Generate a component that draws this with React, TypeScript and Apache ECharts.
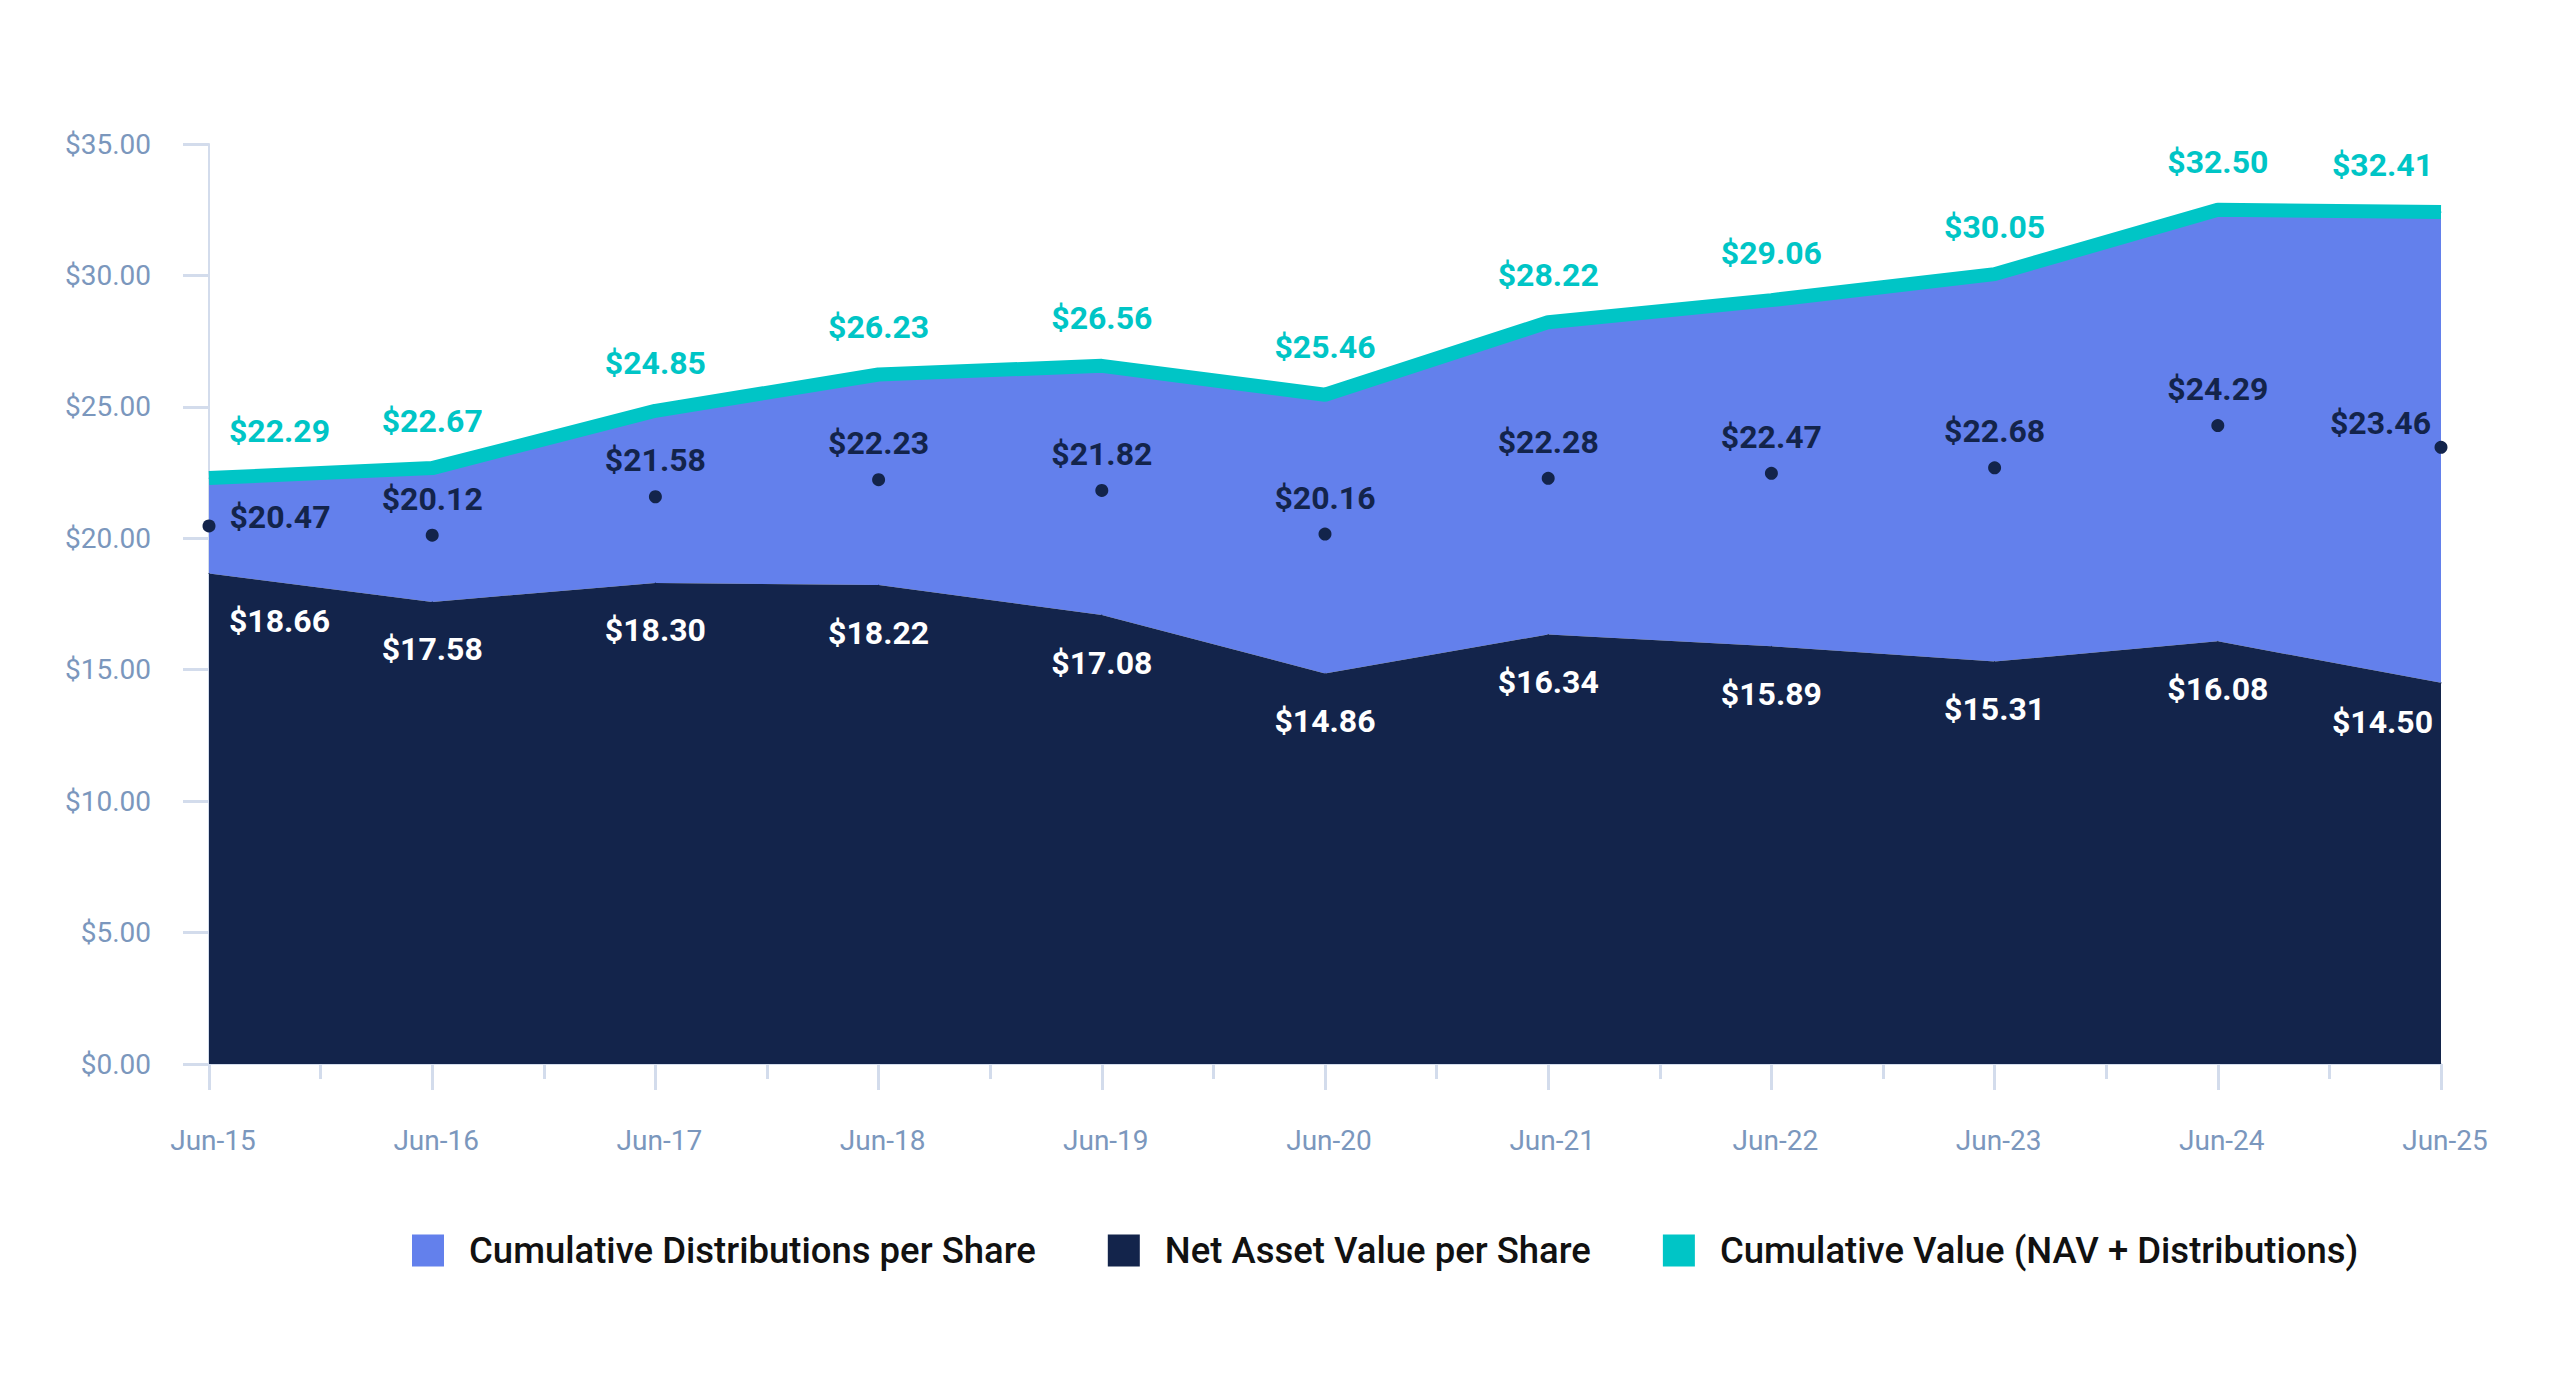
import React, { useEffect, useRef } from 'react';
import * as echarts from 'echarts';

const categories = ['Jun-15', 'Jun-16', 'Jun-17', 'Jun-18', 'Jun-19', 'Jun-20', 'Jun-21', 'Jun-22', 'Jun-23', 'Jun-24', 'Jun-25'];
const navPerShare = [18.66, 17.58, 18.3, 18.22, 17.08, 14.86, 16.34, 15.89, 15.31, 16.08, 14.5];
const cumulativeValue = [22.29, 22.67, 24.85, 26.23, 26.56, 25.46, 28.22, 29.06, 30.05, 32.5, 32.41];
const markerValues = [20.47, 20.12, 21.58, 22.23, 21.82, 20.16, 22.28, 22.47, 22.68, 24.29, 23.46];
const yMin = 0;
const yMax = 35;
const yInterval = 5;

const NAVY = '#13244b';
const PURPLE = '#6380ec';
const TEAL = '#00c5c6';
const AXIS = '#d3dcec';
const LABEL = '#7b97bd';
const FONT = 'Roboto';

const distributions = cumulativeValue.map((c, i) => +(c - navPerShare[i]).toFixed(2));
const last = categories.length - 1;
const money = (v: number) => '$' + v.toFixed(2);

const edgeLabel = (i: number, first: any, lastL: any) => (i === 0 ? first : i === last ? lastL : undefined);

export default function App() {
  const ref = useRef<HTMLDivElement>(null);
  useEffect(() => {
    document.body.style.margin = '0';
    const chart = echarts.init(ref.current!, null, { renderer: 'svg' });
    const bold = { fontFamily: FONT, fontWeight: 'bold', fontSize: 32 } as any;
    chart.setOption({
      animation: false,
      backgroundColor: '#ffffff',
      grid: { left: 209, right: 119, top: 144, bottom: 310 },
      legend: {
        data: ['Cumulative Distributions per Share', 'Net Asset Value per Share', 'Cumulative Value (NAV + Distributions)'],
        left: 407,
        top: 1227,
        icon: 'rect',
        itemWidth: 32,
        itemHeight: 32,
        itemGap: 72,
        textStyle: { fontFamily: FONT, fontSize: 36.5, fontWeight: 500, color: '#111111', padding: [0, 0, 0, 20] },
      },
      xAxis: [
        {
          type: 'category',
          data: categories,
          boundaryGap: false,
          show: false,
        },
        {
          type: 'value',
          min: 0,
          max: last,
          interval: 1,
          position: 'bottom',
          axisLine: { show: true, lineStyle: { color: AXIS, width: 2 } },
          axisTick: { show: true, length: 26, lineStyle: { color: AXIS, width: 3 } },
          minorTick: { show: true, splitNumber: 2, length: 15, lineStyle: { color: AXIS, width: 3 } },
          splitLine: { show: false },
          minorSplitLine: { show: false },
          axisLabel: {
            formatter: (v: number) => categories[Math.round(v)] ?? '',
            color: LABEL,
            fontFamily: FONT,
            fontSize: 28,
            margin: 62,
            padding: [0, 0, 0, 8],
          },
        },
      ],
      yAxis: {
        type: 'value',
        min: yMin,
        max: yMax,
        interval: yInterval,
        axisLine: { show: true, lineStyle: { color: AXIS, width: 2 } },
        axisTick: { show: true, length: 26, lineStyle: { color: AXIS, width: 3 } },
        splitLine: { show: false },
        axisLabel: {
          formatter: (v: number) => money(v),
          color: LABEL,
          fontFamily: FONT,
          fontSize: 28,
          margin: 58,
        },
      },
      series: [
        {
          name: 'Net Asset Value per Share',
          type: 'line',
          xAxisIndex: 0,
          stack: 'total',
          color: NAVY,
          data: navPerShare.map((v, i) => ({
            value: v,
            label: edgeLabel(i, { align: 'left', offset: [20, 0] }, { align: 'right', offset: [-8, -8] }),
          })),
          areaStyle: { color: NAVY, opacity: 1 },
          lineStyle: { width: 0 },
          symbol: 'circle',
          symbolSize: 1,
          showSymbol: true,
          itemStyle: { color: NAVY },
          label: {
            show: true,
            position: 'bottom',
            distance: 31,
            color: '#ffffff',
            ...bold,
            formatter: (p: any) => money(navPerShare[p.dataIndex]),
          },
          z: 2,
        },
        {
          name: 'Cumulative Distributions per Share',
          type: 'line',
          xAxisIndex: 0,
          stack: 'total',
          color: PURPLE,
          data: distributions,
          areaStyle: { color: PURPLE, opacity: 1 },
          lineStyle: { width: 0 },
          symbol: 'none',
          itemStyle: { color: PURPLE },
          z: 1,
        },
        {
          name: 'Cumulative Value (NAV + Distributions)',
          type: 'line',
          xAxisIndex: 0,
          color: TEAL,
          data: cumulativeValue.map((v, i) => ({
            value: v,
            label: edgeLabel(i, { align: 'left', offset: [20, 0] }, { align: 'right', offset: [-8, 0] }),
          })),
          lineStyle: { width: 14, color: TEAL },
          symbol: 'circle',
          symbolSize: 1,
          showSymbol: true,
          itemStyle: { color: TEAL },
          label: {
            show: true,
            position: 'top',
            distance: 31,
            color: TEAL,
            ...bold,
            formatter: (p: any) => money(cumulativeValue[p.dataIndex]),
          },
          z: 3,
        },
        {
          name: 'Marker',
          type: 'scatter',
          xAxisIndex: 0,
          data: markerValues.map((v, i) => ({
            value: v,
            label: edgeLabel(
              i,
              { position: 'right', distance: 14, offset: [0, -9] },
              { position: 'top', align: 'right', distance: 2, offset: [-10, 0] }
            ),
          })),
          symbol: 'circle',
          symbolSize: 13,
          itemStyle: { color: NAVY, opacity: 1 },
          label: {
            show: true,
            position: 'top',
            distance: 14,
            color: NAVY,
            ...bold,
            formatter: (p: any) => money(markerValues[p.dataIndex]),
          },
          z: 4,
        },
      ],
    });
    return () => chart.dispose();
  }, []);
  return <div ref={ref} style={{ width: 2560, height: 1374 }} />;
}
